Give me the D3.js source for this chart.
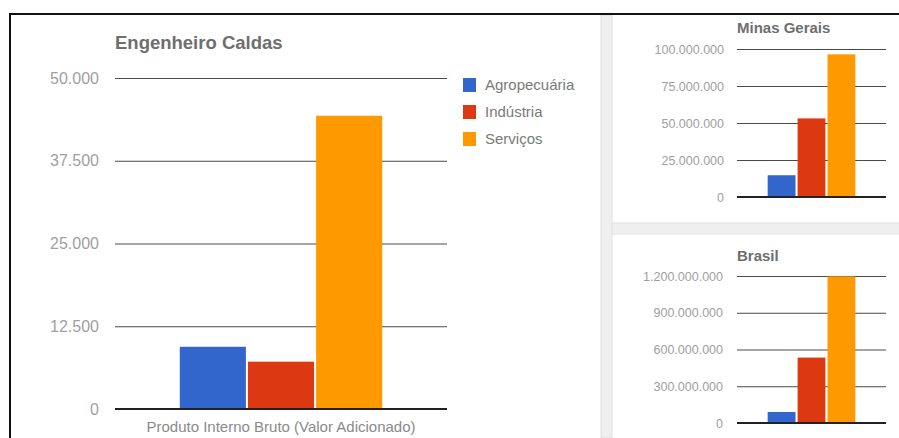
<!DOCTYPE html>
<html>
<head>
<meta charset="utf-8">
<script src="https://cdn.jsdelivr.net/npm/d3@7"></script>
<style>
body{margin:0;background:#fff;}
svg{display:block;font-family:Arial,"Liberation Sans",sans-serif;}
</style>
</head>
<body>
<svg id="svg" width="899" height="438"></svg>
<script>
const categories = ['Agropecuária', 'Indústria', 'Serviços'];
const colors = ['#3366cc', '#dc3912', '#ff9900'];
const groupLabel = 'Produto Interno Bruto (Valor Adicionado)';

const caldasValues = [9400, 7150, 44300];
const caldasTicks = [0, 12500, 25000, 37500, 50000];

const minasValues = [14700000, 53100000, 96400000];
const minasTicks = [0, 25000000, 50000000, 75000000, 100000000];

const brasilValues = [90000000, 534000000, 1197000000];
const brasilTicks = [0, 300000000, 600000000, 900000000, 1200000000];

const ptBR = d3.formatLocale({decimal: ',', thousands: '.', grouping: [3], currency: ['R$', '']});
const fmt = ptBR.format(',');

const svg = d3.select('#svg');

// frame and panel separators
svg.append('rect').attr('x', 601).attr('y', 15).attr('width', 11).attr('height', 423)
    .attr('fill', '#efefef').attr('stroke', '#e0e0e0');
svg.append('rect').attr('x', 612).attr('y', 223).attr('width', 290).attr('height', 11)
    .attr('fill', '#efefef').attr('stroke', '#e0e0e0');
svg.append('line').attr('x1', 9).attr('x2', 899).attr('y1', 14).attr('y2', 14)
    .attr('stroke', '#111').attr('stroke-width', 2);
svg.append('line').attr('x1', 10).attr('x2', 10).attr('y1', 13).attr('y2', 438)
    .attr('stroke', '#111').attr('stroke-width', 2);

function drawChart(opt){
    const g = svg.append('g');
    const y = d3.scaleLinear().domain([0, d3.max(opt.ticks)]).range([opt.y0, opt.y1]);
    const x0 = d3.scaleBand().domain([groupLabel]).range([opt.x0, opt.x1]).paddingOuter(opt.outer).paddingInner(0);
    const x1 = d3.scaleBand().domain(categories).range([0, x0.bandwidth()]).paddingInner(opt.inner);

    const axis = d3.axisLeft(y).tickValues(opt.ticks).tickFormat(fmt)
        .tickSize(-(opt.x1 - opt.x0)).tickPadding(opt.pad);
    const ax = g.append('g').attr('transform', `translate(${opt.x0},0)`).call(axis);
    ax.select('.domain').remove();
    ax.selectAll('.tick line').attr('stroke', '#4a4a4a').attr('stroke-width', 1);
    ax.selectAll('.tick text').attr('fill', '#a0a0a0').attr('font-size', opt.labelSize)
        .attr('font-family', 'Arial,"Liberation Sans",sans-serif');

    g.selectAll('.bar').data(opt.values).enter().append('rect')
        .attr('class', 'bar')
        .attr('x', (d, i) => x0(groupLabel) + x1(categories[i]))
        .attr('width', x1.bandwidth())
        .attr('y', d => y(d))
        .attr('height', d => y(0) - y(d))
        .attr('fill', (d, i) => colors[i]);

    g.append('line').attr('x1', opt.x0).attr('x2', opt.x1)
        .attr('y1', y(0)).attr('y2', y(0))
        .attr('stroke', '#222').attr('stroke-width', 2);

    g.append('text').attr('x', opt.titleX).attr('y', opt.titleY)
        .attr('font-size', opt.titleSize).attr('font-weight', 'bold')
        .attr('fill', '#6e6e6e').text(opt.title);
    return {g, x0};
}

const main = drawChart({
    title: 'Engenheiro Caldas', titleX: 115, titleY: 49, titleSize: 18.5,
    values: caldasValues, ticks: caldasTicks,
    x0: 115, x1: 447, y0: 409, y1: 78, outer: 0.32, inner: 0.03,
    labelSize: 16, pad: 16
});
main.g.append('text').attr('x', main.x0(groupLabel) + main.x0.bandwidth() / 2).attr('y', 432)
    .attr('text-anchor', 'middle').attr('font-size', 15).attr('fill', '#8a8a8a')
    .text(groupLabel);

const legend = svg.append('g').selectAll('g').data(categories).enter().append('g')
    .attr('transform', (d, i) => `translate(463,${78 + i * 27})`);
legend.append('rect').attr('width', 13).attr('height', 14).attr('fill', (d, i) => colors[i]);
legend.append('text').attr('x', 22).attr('y', 12).attr('font-size', 15)
    .attr('fill', '#7a7a7a').text(d => d);

drawChart({
    title: 'Minas Gerais', titleX: 737, titleY: 33, titleSize: 15,
    values: minasValues, ticks: minasTicks,
    x0: 737, x1: 886, y0: 197, y1: 49, outer: 0.35, inner: 0.07,
    labelSize: 12.5, pad: 13
});

drawChart({
    title: 'Brasil', titleX: 737, titleY: 261, titleSize: 15,
    values: brasilValues, ticks: brasilTicks,
    x0: 737, x1: 886, y0: 423, y1: 276, outer: 0.35, inner: 0.07,
    labelSize: 12.5, pad: 14
});
</script>
</body>
</html>
